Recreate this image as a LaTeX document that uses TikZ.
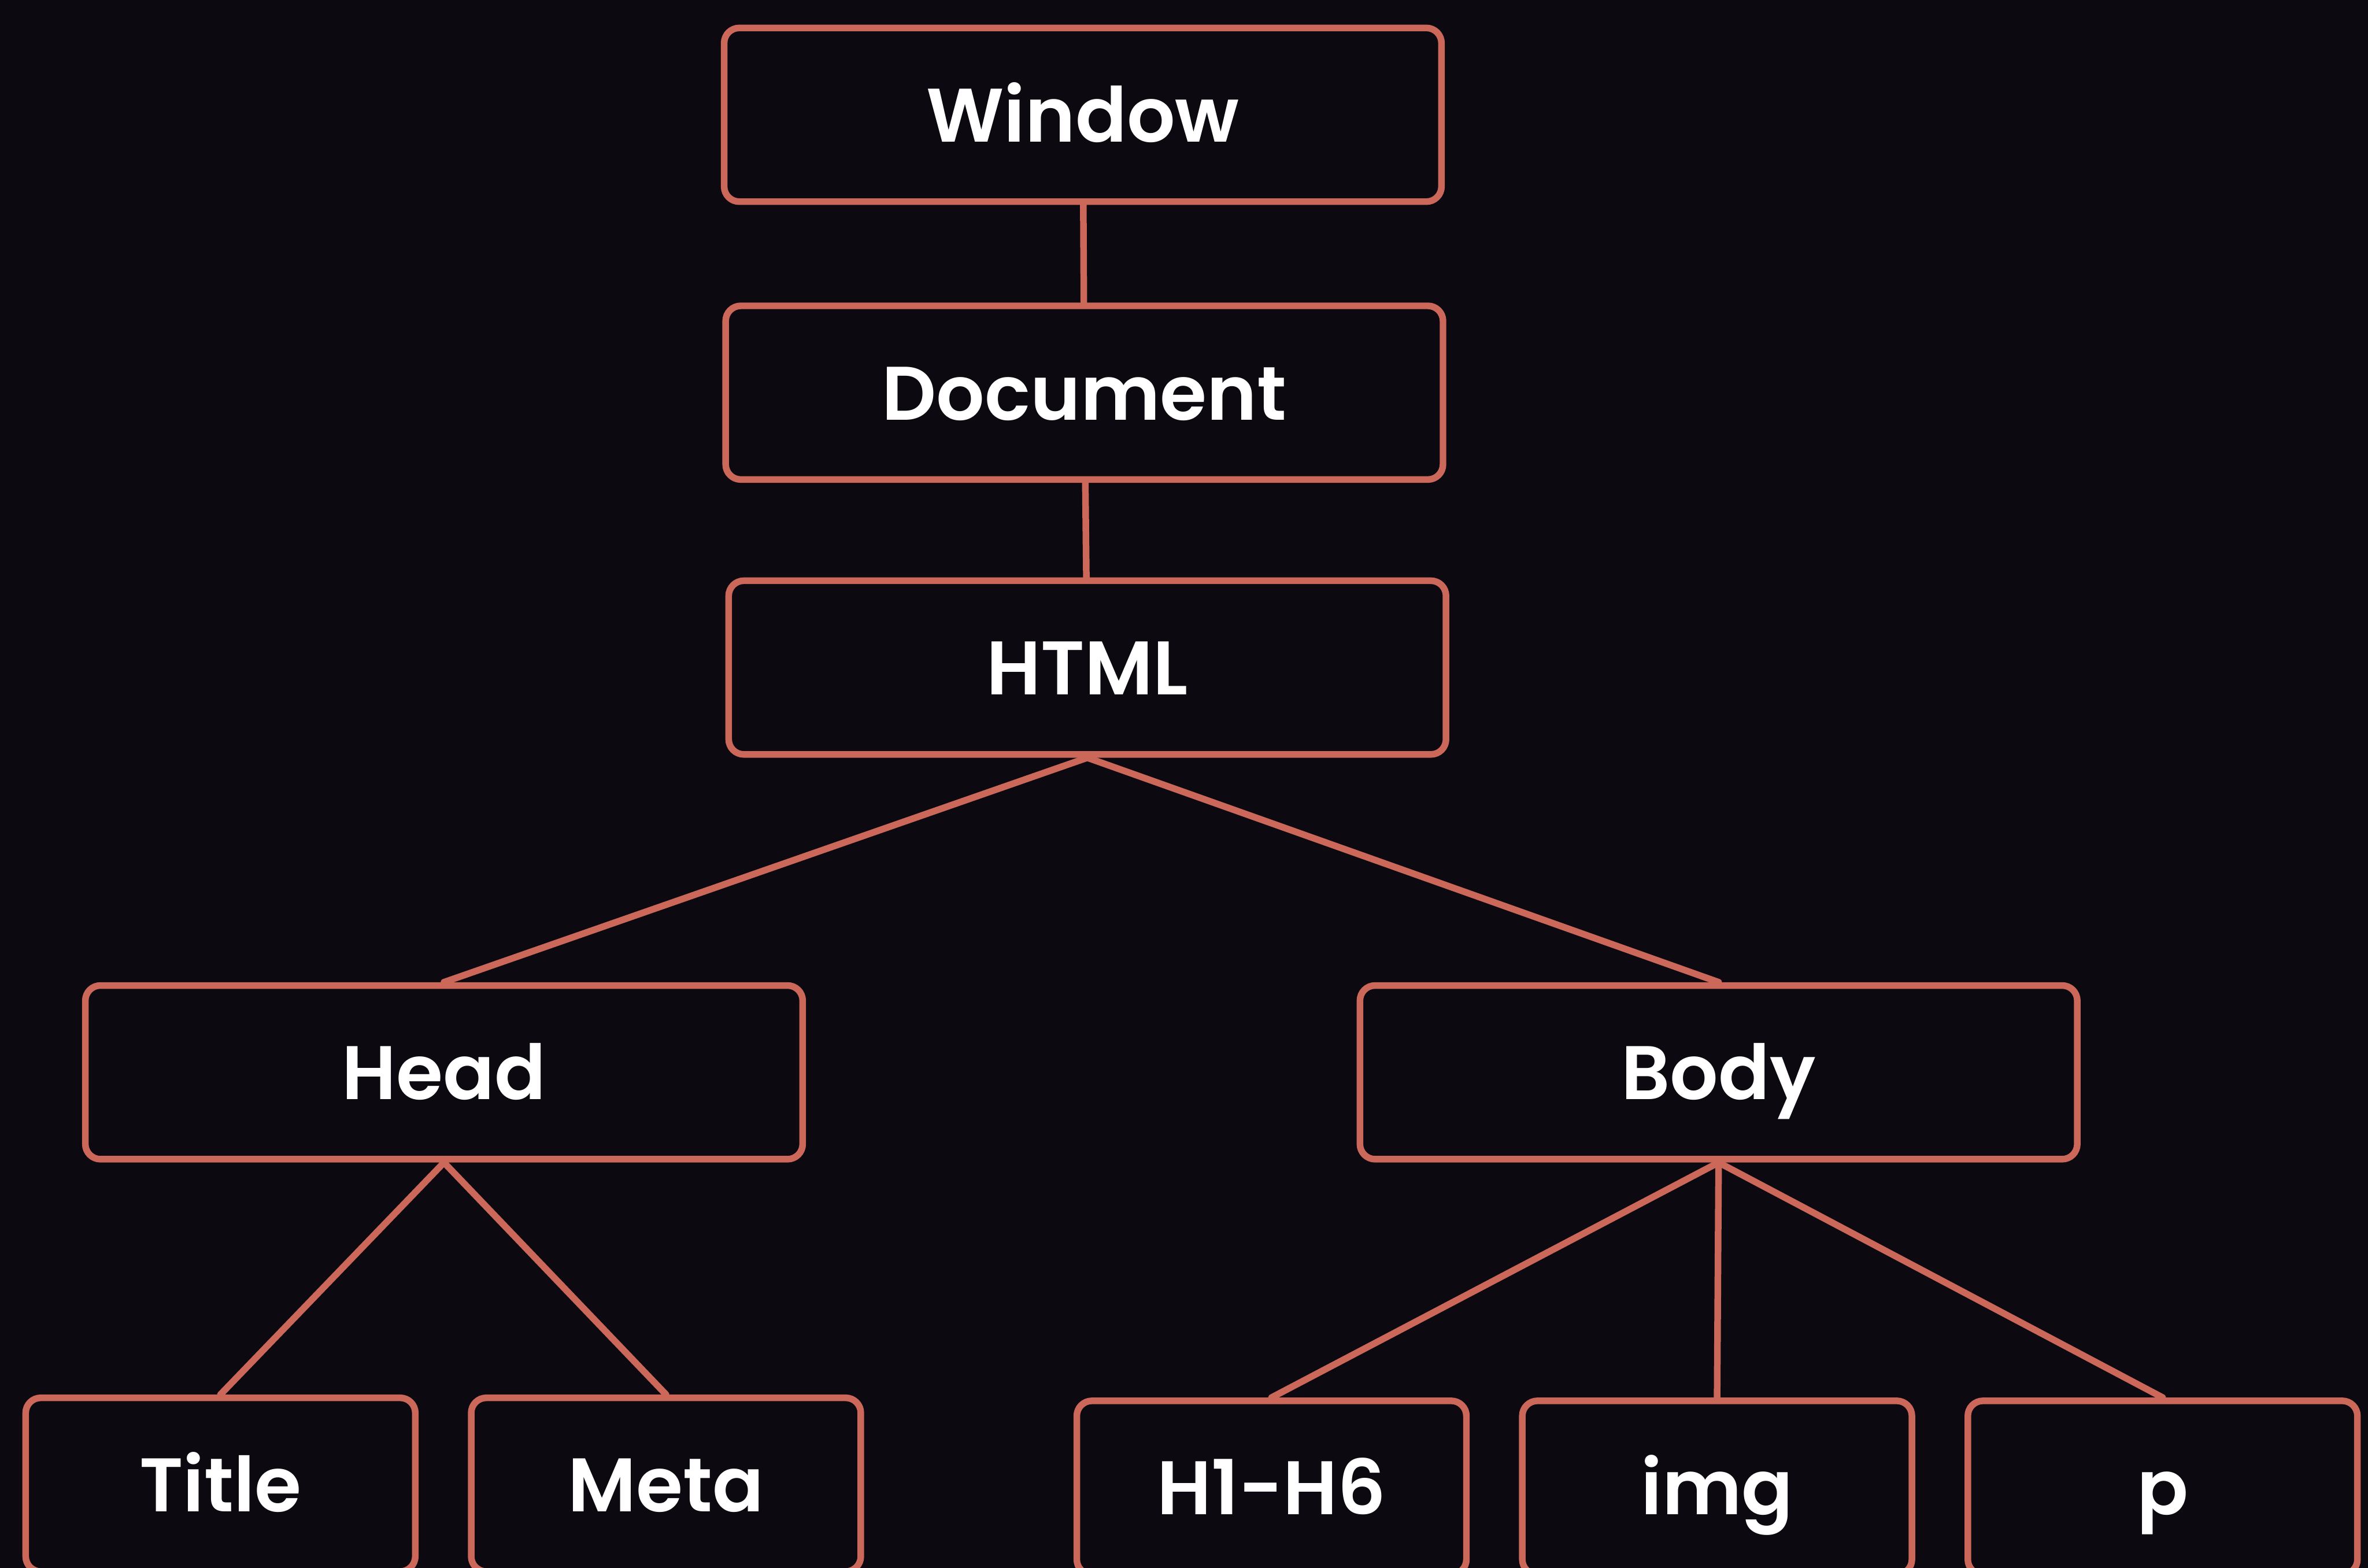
\documentclass[tikz,border=0pt]{standalone}
\usepackage{fontspec}
\setmainfont{Poppins}[BoldFont={Poppins SemiBold}]
\definecolor{bgdark}{RGB}{12,9,17}
\definecolor{salmon}{RGB}{204,104,90}
\begin{document}
\begin{tikzpicture}[x=0.1mm, y=-0.1mm, line join=round, line cap=round,
	box/.style={draw=salmon, line width=1.25pt, rounded corners=1mm, minimum width=47.5mm, minimum height=11.5mm,
		text=white, font=\fontsize{14.3pt}{17pt}\selectfont\bfseries, text height=10.2pt, text depth=0pt, inner ysep=0pt},
	leaf/.style={box, minimum width=25.8mm},
	link/.style={salmon, line width=1.25pt}]
	\clip (0,0) rectangle (1568,1038);
	\fill[bgdark] (0,0) rectangle (1568,1038);
	% tree boxes
	\node[box] (window) at (717,76) {Window};
	\node[box] (document) at (718,260) {Document};
	\node[box] (html) at (720,442) {HTML};
	\node[box] (head) at (294,710) {Head};
	\node[box] (body) at (1138,710) {Body};
	\node[leaf] (title) at (146,983) {Title};
	\node[leaf] (meta) at (441,983) {Meta};
	\node[leaf] (heading) at (842,985) {H1-H6};
	\node[leaf] (img) at (1137,985) {img};
	\node[leaf] (para) at (1432,985) {p};
	% links
	\draw[link] (window) -- (document);
	\draw[link] (document) -- (html);
	\draw[link] (html.south) -- (head.north);
	\draw[link] (html.south) -- (body.north);
	\foreach \c in {title,meta}
	\draw[link] (head.south) -- (\c.north);
	\foreach \c in {heading,img,para}
	\draw[link] (body.south) -- (\c.north);
\end{tikzpicture}
\end{document}
